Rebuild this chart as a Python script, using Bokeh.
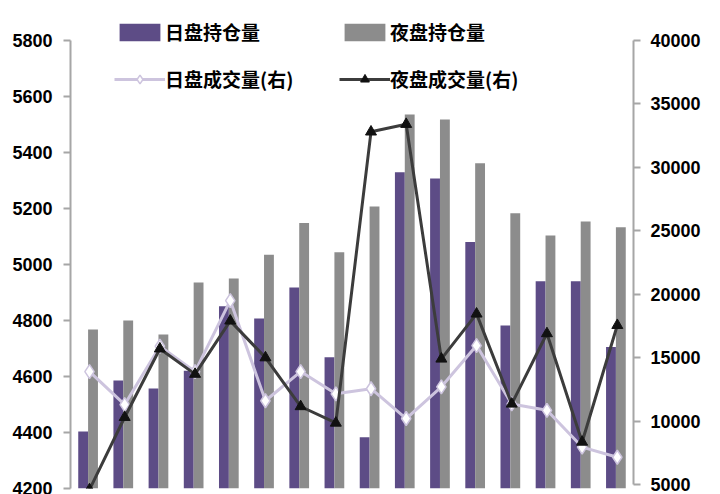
from bokeh.plotting import figure
from bokeh.models import (Range1d, FactorRange, LinearAxis, SingleIntervalTicker,
                          Legend, LegendItem, ColumnDataSource)
from bokeh.transform import dodge
from bokeh.embed import file_html
from bokeh.resources import INLINE

categories = ["1", "2", "3", "4", "5", "6", "7", "8",
              "9", "10", "11", "12", "13", "14", "15", "16"]
day_oi = [4404, 4586, 4557, 4621, 4851, 4807, 4918, 4669,
          4383, 5330, 5307, 5080, 4782, 4940, 4940, 4705]
night_oi = [4768, 4800, 4750, 4936, 4950, 5035, 5148, 5044,
            5207, 5536, 5518, 5362, 5183, 5104, 5154, 5133]
day_vol = [13900, 11300, 15900, 13900, 19500, 11600, 13900, 12150,
           12550, 10200, 12700, 15950, 11350, 10850, 7950, 7150]
night_vol = [4600, 10300, 15700, 13700, 17900, 15000, 11150, 9850,
             32800, 33400, 14900, 18450, 11350, 16900, 8350, 17550]

names = ["日盘持仓量", "夜盘持仓量", "日盘成交量(右)", "夜盘成交量(右)"]

left_ticks = (4200, 5800)
right_ticks = (5000, 40000)

src = ColumnDataSource(dict(cat=categories, day_oi=day_oi, night_oi=night_oi,
                            day_vol=day_vol, night_vol=night_vol))

# frame spans the full height so the legend (above the axes' top) is not clipped
p = figure(width=712, height=494, output_backend="svg", toolbar_location=None,
           x_range=FactorRange(*categories, range_padding=0),
           y_range=Range1d(4200, 5943), x_axis_location=None,
           min_border_left=70, min_border_right=79, min_border_top=0,
           min_border_bottom=6)
p.extra_y_ranges = {"right": Range1d(4685, 43153)}
p.outline_line_color = None
p.grid.visible = False
p.background_fill_color = "white"

FONT = "Liberation Sans"

def style_axis(ax, interval, bounds, standoff):
    ax.ticker = SingleIntervalTicker(interval=interval)
    ax.bounds = bounds
    ax.axis_line_color = "#a6a6a6"
    ax.axis_line_width = 2
    ax.major_tick_line_color = "#a6a6a6"
    ax.major_tick_line_width = 2
    ax.major_tick_out = 7
    ax.major_tick_in = 0
    ax.minor_tick_line_color = None
    ax.major_label_text_font = FONT
    ax.major_label_text_font_style = "bold"
    ax.major_label_text_font_size = "18px"
    ax.major_label_text_color = "black"
    ax.major_label_standoff = standoff

style_axis(p.yaxis[0], 200, left_ticks, 11)
rax = LinearAxis(y_range_name="right")
style_axis(rax, 5000, right_ticks, 10)
p.add_layout(rax, "right")

b1 = p.vbar(x=dodge("cat", -0.14, range=p.x_range), top="day_oi", bottom=4200,
            width=0.28, source=src, fill_color="#5d4c86", line_color=None)
b2 = p.vbar(x=dodge("cat", 0.14, range=p.x_range), top="night_oi", bottom=4200,
            width=0.28, source=src, fill_color="#8c8c8c", line_color=None)

l1 = p.line(x=dodge("cat", 0.04, range=p.x_range), y="day_vol", source=src,
            y_range_name="right", line_color="#cdc4de", line_width=3)
s1 = p.scatter(x=dodge("cat", 0.04, range=p.x_range), y="day_vol", source=src,
               y_range_name="right", marker="diamond", size=14,
               fill_color="white", line_color="#cdc4de", line_width=1.5)
l2 = p.line(x=dodge("cat", 0.04, range=p.x_range), y="night_vol", source=src,
            y_range_name="right", line_color="#3c3c3c", line_width=3)
s2 = p.scatter(x=dodge("cat", 0.04, range=p.x_range), y="night_vol", source=src,
               y_range_name="right", marker="triangle", size=11,
               fill_color="#111111", line_color="#111111")

def make_legend(items, x, y):
    lg = Legend(items=items, location=(x, y), orientation="vertical")
    lg.background_fill_alpha = 0
    lg.border_line_color = None
    lg.padding = 0
    lg.margin = 0
    lg.spacing = 20
    lg.glyph_width = 51
    lg.glyph_height = 22
    lg.label_height = 22
    lg.label_standoff = 0
    lg.label_text_font = "Noto Sans CJK SC"
    lg.label_text_font_style = "bold"
    lg.label_text_font_size = "19px"
    lg.label_text_color = "black"
    return lg

legA = make_legend([LegendItem(label=names[0], renderers=[b1]),
                    LegendItem(label=names[2], renderers=[l1, s1])], 44, 396)
legB = make_legend([LegendItem(label=names[1], renderers=[b2]),
                    LegendItem(label=names[3], renderers=[l2, s2])], 269, 396)
p.add_layout(legA, "center")
p.add_layout(legB, "center")

open("out.html", "w").write(file_html(p, INLINE))
